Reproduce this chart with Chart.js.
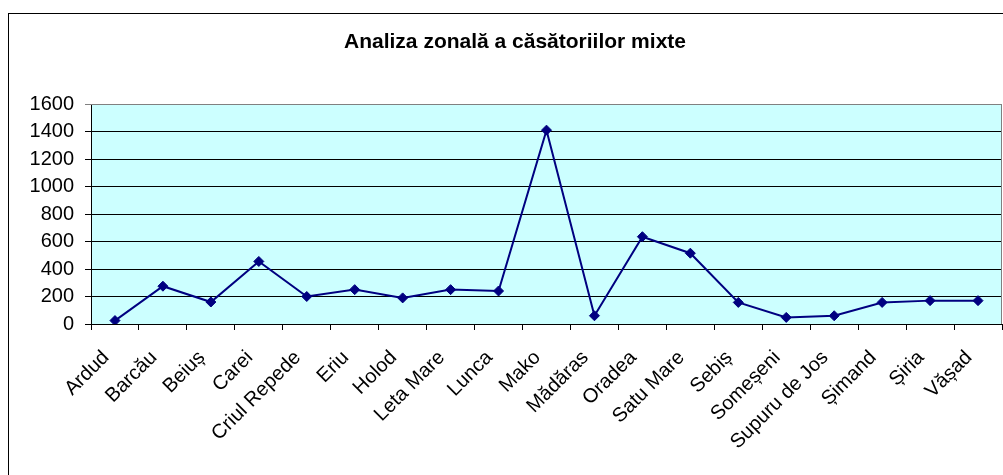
<!DOCTYPE html>
<html>
<head>
<meta charset="utf-8">
<script src="https://cdn.jsdelivr.net/npm/chart.js@4"></script>
<style>
  html, body { margin: 0; padding: 0; background: #fff; }
  #wrap { width: 1003px; height: 475px; }
</style>
</head>
<body>
<div id="wrap"><canvas id="chart" width="1003" height="475"></canvas></div>
<script>
const categories = [
  'Ardud', 'Barcău', 'Beiuș', 'Carei', 'Criul Repede', 'Eriu', 'Holod',
  'Leta Mare', 'Lunca', 'Mako', 'Mădăras', 'Oradea', 'Satu Mare', 'Sebiș',
  'Someșeni', 'Supuru de Jos', 'Șimand', 'Șiria', 'Vășad'
];
const values = [25, 275, 160, 455, 200, 250, 190, 250, 240, 1410, 60, 635, 515, 157, 48, 60, 157, 170, 170];
const yTicks = [0, 200, 400, 600, 800, 1000, 1200, 1400, 1600];
const chartTitle = 'Analiza zonală a căsătoriilor mixte';

const fontFamily = 'Arial, "Liberation Sans", sans-serif';
const lineColor = '#000080';

// frame, cyan plot background, grey top/right edges and the title
const framePlugin = {
  id: 'frame',
  beforeDraw(chart) {
    const { ctx, chartArea } = chart;
    ctx.save();
    ctx.strokeStyle = '#000';
    ctx.lineWidth = 1;
    ctx.strokeRect(8.5, 13.5, 1200, 700);
    ctx.fillStyle = '#ccffff';
    ctx.fillRect(chartArea.left, chartArea.top, chartArea.right - chartArea.left, chartArea.bottom - chartArea.top);
    ctx.restore();
  },
  afterDatasetsDraw(chart) {
    const { ctx, chartArea } = chart;
    ctx.save();
    ctx.strokeStyle = '#808080';
    ctx.lineWidth = 1;
    ctx.beginPath();
    ctx.moveTo(chartArea.left, chartArea.top + 0.5);
    ctx.lineTo(chartArea.right - 0.5, chartArea.top + 0.5);
    ctx.lineTo(chartArea.right - 0.5, chartArea.bottom);
    ctx.stroke();
    ctx.restore();
  },
  afterDraw(chart) {
    const { ctx } = chart;
    ctx.save();
    ctx.fillStyle = '#000';
    ctx.font = 'bold 21px ' + fontFamily;
    ctx.textAlign = 'center';
    ctx.textBaseline = 'middle';
    ctx.fillText(chartTitle, 515, 42);
    ctx.restore();
  }
};

new Chart(document.getElementById('chart'), {
  type: 'line',
  data: {
    labels: categories,
    datasets: [{
      data: values,
      borderColor: lineColor,
      backgroundColor: lineColor,
      borderWidth: 2,
      pointStyle: 'rectRot',
      pointRadius: 5,
      pointBorderWidth: 1,
      tension: 0,
      fill: false
    }]
  },
  options: {
    responsive: false,
    animation: false,
    layout: { padding: { top: 104, right: 1, bottom: 0, left: 0 }, autoPadding: false },
    plugins: {
      legend: { display: false },
      tooltip: { enabled: false },
      title: { display: false }
    },
    scales: {
      x: {
        offset: true,
        grid: {
          offset: true,
          drawOnChartArea: false,
          drawTicks: true,
          tickLength: 6,
          color: '#000'
        },
        border: { display: true, color: '#000' },
        ticks: {
          color: '#000',
          font: { family: fontFamily, size: 20 },
          maxRotation: 45,
          minRotation: 45,
          autoSkip: false,
          padding: 16,
          labelOffset: -9
        },
        afterFit(scale) {
          scale.height = 151;
          scale.paddingLeft = 0;
          scale.paddingRight = 0;
        }
      },
      y: {
        min: 0,
        max: 1600,
        afterBuildTicks(scale) { scale.ticks = yTicks.map(v => ({ value: v })); },
        grid: {
          color: (c) => (c.tick && c.tick.value === 1600 ? '#808080' : '#000'),
          tickLength: 6
        },
        border: { display: true, color: '#000' },
        ticks: {
          color: '#000',
          font: { family: fontFamily, size: 20 },
          padding: 11,
          callback: (v) => String(v)
        },
        afterFit(scale) { scale.width = 91; }
      }
    }
  },
  plugins: [framePlugin]
});
</script>
</body>
</html>
